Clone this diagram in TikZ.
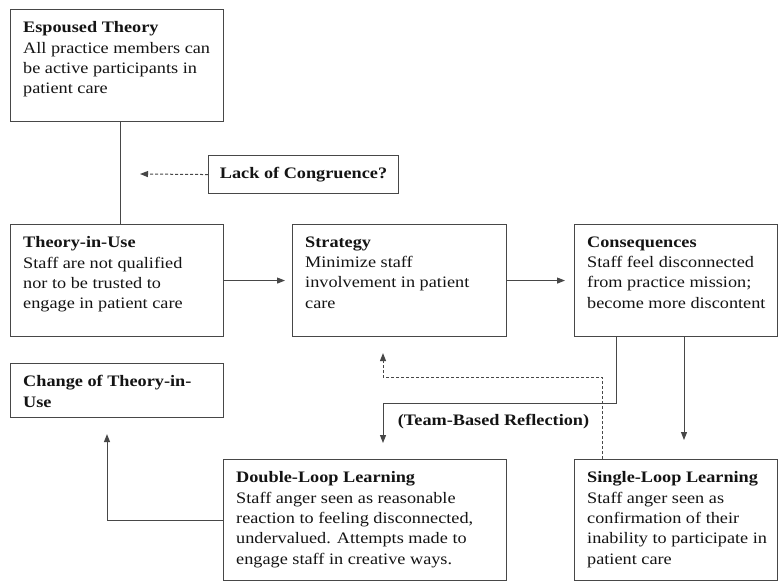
\documentclass[tikz,border=0pt]{standalone}
\usepackage{fontspec}
\setmainfont{Liberation Serif}[FakeStretch=1.14]
\usetikzlibrary{arrows.meta}
\definecolor{boxline}{HTML}{474747}
\definecolor{ink}{HTML}{141414}
\tikzset{
  box/.style={draw=boxline, line width=1.1pt, rectangle, inner sep=0pt, anchor=north west},
  txt/.style={anchor=north west, inner sep=0pt, align=left, text=ink},
  conn/.style={draw=boxline, line width=1pt},
  tip/.style={-{Triangle[length=8pt,width=6pt]}},
  dashconn/.style={draw=boxline, line width=1pt, dash pattern=on 3pt off 2pt}
}
\begin{document}
\begin{tikzpicture}[x=1pt,y=-1pt, font=\fontsize{16}{20.3}\selectfont]
\useasboundingbox (0,0) rectangle (778,583);
\fill[white] (0,0) rectangle (778,583);
% boxes
\node[box, minimum width=213, minimum height=112] (esp) at (10,9) {};
\node[box, minimum width=190, minimum height=38, font=\fontsize{16}{20.3}\selectfont\bfseries, text=ink, anchor=north west] (lack) at (208,155) {Lack of Congruence?};
\node[box, minimum width=213, minimum height=112] (tiu) at (10,224) {};
\node[box, minimum width=214, minimum height=112] (strat) at (292,224) {};
\node[box, minimum width=203, minimum height=112] (cons) at (574,224) {};
\node[box, minimum width=213, minimum height=54] (change) at (10,363) {};
\node[box, minimum width=283, minimum height=121] (dbl) at (223,459) {};
\node[box, minimum width=203, minimum height=121] (sgl) at (574,459) {};
% texts
\node[txt] (espt) at (23,21.5) {\textbf{Espoused Theory}\\All practice members can\\be active participants in\\patient care};
\node[txt] (tiut) at (23,236.5) {\textbf{Theory-in-Use}\\Staff are not qualified\\nor to be trusted to\\engage in patient care};
\node[txt] (stratt) at (305,236.5) {\textbf{Strategy}\\Minimize staff\\involvement in patient\\care};
\node[txt] (const) at (587,236.5) {\textbf{Consequences}\\Staff feel disconnected\\from practice mission;\\become more discontent};
\node[txt] (changet) at (23,375.5) {\textbf{Change of Theory-in-}\\\textbf{Use}};
\node[txt] (dblt) at (236,471.5) {\textbf{Double-Loop Learning}\\Staff anger seen as reasonable\\reaction to feeling disconnected,\\undervalued. Attempts made to\\engage staff in creative ways.};
\node[txt] (sglt) at (587,471.5) {\textbf{Single-Loop Learning}\\Staff anger seen as\\confirmation of their\\inability to participate in\\patient care};
\node[inner sep=0pt, text=ink, font=\fontsize{16}{20.3}\selectfont\bfseries] (tbr) at (493.5,422) {(Team-Based Reflection)};
% helper coordinates
\coordinate (c1) at (120,0);
\coordinate (lackend) at (140,174);
\coordinate (tb) at (616,403);
\coordinate (col) at (383,0);
\coordinate (sx) at (684,0);
\coordinate (cx) at (107,0);
\coordinate (dcorner) at (602,377);
% connectors
\draw[conn] (esp.south -| c1) -- (tiu.north -| c1);
\draw[dashconn, tip] (lack.west) -- (lackend);
\draw[conn, tip, shorten >=7pt] (tiu.east) -- (strat.west);
\draw[conn, tip, shorten >=9pt] (strat.east) -- (cons.west);
\draw[conn, tip, shorten >=16pt] (cons.south -| tb) -- (tb) -- (tb -| col) -- (dbl.north -| col);
\draw[conn, tip, shorten >=19pt] (cons.south -| sx) -- (sgl.north -| sx);
\draw[conn, tip, shorten >=16pt] (dbl.west) -- (dbl.west -| cx) -- (change.south -| cx);
\draw[dashconn, tip, shorten >=16pt] (sgl.north -| dcorner) -- (dcorner) -- (dcorner -| col) -- (strat.south -| col);
\end{tikzpicture}
\end{document}
